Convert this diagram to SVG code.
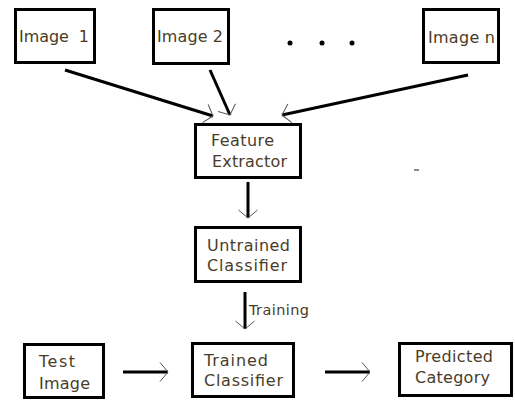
<svg xmlns="http://www.w3.org/2000/svg" width="515" height="400" viewBox="0 0 515 400">
<style>
.box{fill:#fff;stroke:#000;stroke-width:3}
.t{font-family:"DejaVu Sans",sans-serif;font-size:16px;fill:#4a3c28}
.s{font-family:"DejaVu Sans",sans-serif;font-size:14.5px;fill:#4a3c28}
.c{stroke:#000;stroke-width:3;fill:none;marker-end:url(#ah)}
</style>
<defs>
<marker id="ah" markerUnits="userSpaceOnUse" markerWidth="24" markerHeight="24" viewBox="-12 -12 24 24" refX="0" refY="0" orient="auto">
<path d="M-8,-9.5 L0,0 L-8,9.5" fill="none" stroke="#555" stroke-width="1"/>
</marker>
</defs>
<rect width="515" height="400" fill="#fff"/>
<g id="connectors">
<line class="c" x1="65" y1="70" x2="213" y2="116"/>
<line class="c" x1="210" y1="70" x2="230" y2="115"/>
<line class="c" x1="468" y1="75" x2="282" y2="115"/>
<line class="c" x1="248" y1="182" x2="248" y2="218"/>
<line class="c" x1="245" y1="292" x2="245" y2="329"/>
<text class="s" x="249" y="315" textLength="60">Training</text>
<line class="c" x1="123" y1="372" x2="168" y2="372"/>
<line class="c" x1="325" y1="372" x2="370" y2="372"/>
</g>
<g id="image1">
<rect class="box" x="15.5" y="9.5" width="79" height="53"/>
<text class="t" x="19" y="42" textLength="70" xml:space="preserve">Image  1</text>
</g>
<g id="image2">
<rect class="box" x="153.5" y="9.5" width="75" height="54"/>
<text class="t" x="157" y="42" textLength="66">Image 2</text>
</g>
<g id="dots">
<circle cx="290" cy="43" r="2.5" fill="#000"/>
<circle cx="322" cy="43" r="2.5" fill="#000"/>
<circle cx="352" cy="43" r="2.5" fill="#000"/>
</g>
<g id="imagen">
<rect class="box" x="423.5" y="9.5" width="75" height="53"/>
<text class="t" x="428" y="43" textLength="67">Image n</text>
</g>
<g id="feature-extractor">
<rect class="box" x="195.5" y="124.5" width="105" height="53"/>
<text class="t" x="211" y="146" textLength="63">Feature</text>
<text class="t" x="212" y="167" textLength="75">Extractor</text>
</g>
<g id="untrained-classifier">
<rect class="box" x="195.5" y="227.5" width="105" height="54"/>
<text class="t" x="207" y="251" textLength="83">Untrained</text>
<text class="t" x="207" y="271" textLength="80">Classifier</text>
</g>
<g id="test-image">
<rect class="box" x="24.5" y="344.5" width="79" height="53"/>
<text class="t" x="39" y="367" textLength="36">Test</text>
<text class="t" x="39" y="389" textLength="51">Image</text>
</g>
<g id="trained-classifier">
<rect class="box" x="192.5" y="343.5" width="101" height="53"/>
<text class="t" x="204" y="366" textLength="64">Trained</text>
<text class="t" x="204" y="386" textLength="79">Classifier</text>
</g>
<g id="predicted-category">
<rect class="box" x="399.5" y="343.5" width="112" height="52"/>
<text class="t" x="415" y="362" textLength="78">Predicted</text>
<text class="t" x="415" y="383" textLength="75">Category</text>
</g>
<line x1="414" y1="170" x2="419" y2="170" stroke="#666" stroke-width="1.5"/>
</svg>
